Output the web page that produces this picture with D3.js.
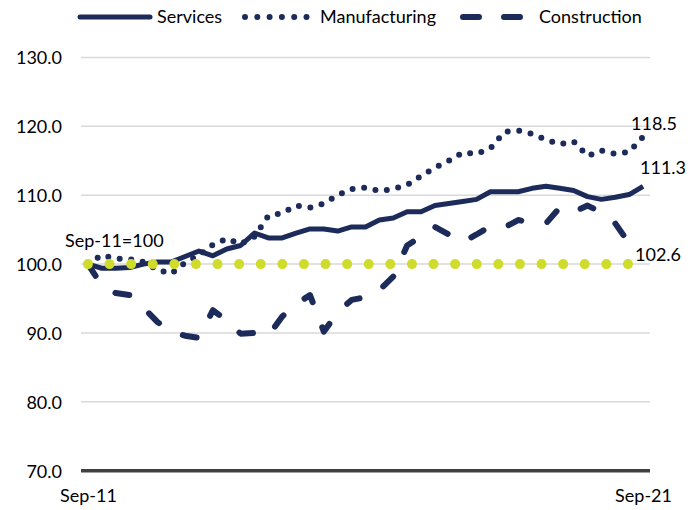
<!DOCTYPE html>
<html>
<head>
<meta charset="utf-8">
<script src="https://cdn.jsdelivr.net/npm/d3@7"></script>
<style>
  body { margin: 0; background: #fff; }
  svg text { font-family: Lato, "Open Sans", sans-serif; fill: #000; }
</style>
</head>
<body>
<svg id="chart" width="688" height="510"></svg>
<script>
"use strict";

// quarterly index, Sep-11 = 100
const quarters = d3.timeMonth.range(new Date(2011, 8, 1), new Date(2021, 9, 1), 3);
const tickLabels = ["Sep-11", "Sep-21"];
const yTicks = [70, 80, 90, 100, 110, 120, 130];

const services = [100.0, 99.4, 99.4, 99.5, 100.0, 100.3, 100.3, 101.1, 101.9, 101.2,
  102.2, 102.7, 104.5, 103.8, 103.8, 104.5, 105.1, 105.1, 104.8, 105.4,
  105.4, 106.4, 106.7, 107.6, 107.6, 108.5, 108.8, 109.1, 109.4, 110.5,
  110.5, 110.5, 111.0, 111.3, 111.0, 110.7, 109.8, 109.4, 109.7, 110.1, 111.3];

const manufacturing = [100.0, 101.3, 100.8, 100.7, 100.3, 99.2, 98.6, 100.2, 101.3, 102.8,
  103.7, 102.9, 104.0, 107.0, 107.4, 108.5, 108.2, 108.8, 110.0, 110.9,
  111.1, 110.6, 110.9, 111.5, 112.8, 114.0, 115.0, 116.2, 116.0, 116.8,
  119.2, 119.4, 118.9, 118.1, 117.4, 117.8, 115.7, 116.5, 116.0, 116.3, 118.5];

const construction = [100.0, 96.9, 95.8, 95.5, 93.7, 91.6, 90.2, 89.6, 89.3, 93.3,
  91.8, 89.9, 90.0, 89.6, 92.4, 94.2, 95.5, 90.2, 93.0, 94.8,
  95.2, 96.2, 98.2, 102.7, 104.0, 105.4, 104.3, 103.2, 104.3, 105.5,
  105.3, 106.4, 106.0, 105.9, 108.2, 107.6, 108.5, 107.5, 105.9, 103.0, 102.6];

const baseline = [100, 100, 100, 100, 100, 100, 100, 100, 100, 100,
  100, 100, 100, 100, 100, 100, 100, 100, 100, 100,
  100, 100, 100, 100, 100, 100, 100, 100, 100, 100,
  100, 100, 100, 100, 100, 100, 100, 100, 100, 100, 100];

const navy = "#1c2b5a";
const lime = "#cfdc2b";

const svg = d3.select("#chart");
const fmt = d3.format(".1f");
const monthFmt = d3.timeFormat("%b-%y");

const x = d3.scalePoint()
  .domain(quarters.map(d => monthFmt(d)))
  .range([81, 650])
  .padding(0.5);

const y = d3.scaleLinear()
  .domain([70, 130])
  .range([470.7, 57.5]);

// gridlines
svg.append("g")
  .selectAll("line")
  .data(yTicks.filter(d => d > 70))
  .join("line")
  .attr("x1", 81).attr("x2", 650)
  .attr("y1", d => y(d)).attr("y2", d => y(d))
  .attr("stroke", "#d9d9d9")
  .attr("stroke-width", 1.5);

// y axis labels
const yAxis = d3.axisLeft(y).tickValues(yTicks).tickFormat(fmt).tickSize(0).tickPadding(0);
svg.append("g")
  .attr("transform", "translate(62,0)")
  .call(yAxis)
  .call(g => g.select(".domain").remove())
  .selectAll("text")
  .style("font-size", "18px")
  .attr("dy", "0.35em");

// x axis: base line at 70 + first/last labels
const xAxis = d3.axisBottom(x).tickValues(tickLabels).tickSize(0).tickPadding(0);
svg.append("g")
  .attr("transform", "translate(0," + y(70) + ")")
  .call(xAxis)
  .call(g => g.select(".domain")
    .attr("d", "M81,0H650")
    .attr("stroke", "#404040")
    .attr("stroke-width", 3.5))
  .selectAll("text")
  .style("font-size", "18px")
  .attr("dy", "0.35em")
  .attr("y", 25);

const line = d3.line()
  .x((d, i) => x(monthFmt(quarters[i])))
  .y(d => y(d));

svg.append("path")
  .datum(services)
  .attr("d", line)
  .attr("fill", "none")
  .attr("stroke", navy)
  .attr("stroke-width", 5)
  .attr("stroke-linejoin", "round");

svg.append("path")
  .datum(manufacturing)
  .attr("d", line)
  .attr("fill", "none")
  .attr("stroke", navy)
  .attr("stroke-width", 6)
  .attr("stroke-linecap", "round")
  .attr("stroke-dasharray", "0 11.6");

svg.append("path")
  .datum(construction)
  .attr("d", line)
  .attr("fill", "none")
  .attr("stroke", navy)
  .attr("stroke-width", 6)
  .attr("stroke-linecap", "round")
  .attr("stroke-linejoin", "round")
  .attr("stroke-dasharray", "14 27");

svg.append("path")
  .datum(baseline)
  .attr("d", line)
  .attr("fill", "none")
  .attr("stroke", lime)
  .attr("stroke-width", 10)
  .attr("stroke-linecap", "round")
  .attr("stroke-dasharray", "0 21.6");

// labels
const last = quarters.length - 1;
const lastX = x(monthFmt(quarters[last]));
svg.append("text").attr("x", 65).attr("y", 241).attr("dy", "0.35em")
  .style("font-size", "18px").text("Sep-11=100");
svg.append("text").attr("x", lastX - 12).attr("y", y(manufacturing[last]) - 13).attr("dy", "0.35em")
  .style("font-size", "18px").text(fmt(manufacturing[last]));
svg.append("text").attr("x", lastX - 3).attr("y", y(services[last]) - 19).attr("dy", "0.35em")
  .style("font-size", "18px").text(fmt(services[last]));
svg.append("text").attr("x", lastX - 8).attr("y", y(construction[last]) + 9).attr("dy", "0.35em")
  .style("font-size", "18px").text(fmt(construction[last]));

// legend
const legend = [
  {name: "Services", x1: 80, x2: 150, tx: 157, w: 5, dash: null},
  {name: "Manufacturing", x1: 245, x2: 307, tx: 320, w: 6, dash: "0 12.3"},
  {name: "Construction", x1: 463, x2: 525, tx: 539, w: 6, dash: "16 25"}
];
const lg = svg.append("g").selectAll("g").data(legend).join("g");
lg.append("line")
  .attr("x1", d => d.x1).attr("x2", d => d.x2)
  .attr("y1", 17).attr("y2", 17)
  .attr("stroke", navy)
  .attr("stroke-width", d => d.w)
  .attr("stroke-linecap", "round")
  .attr("stroke-dasharray", d => d.dash);
lg.append("text")
  .attr("x", d => d.tx).attr("y", 17).attr("dy", "0.35em")
  .style("font-size", "18px")
  .text(d => d.name);
</script>
</body>
</html>
